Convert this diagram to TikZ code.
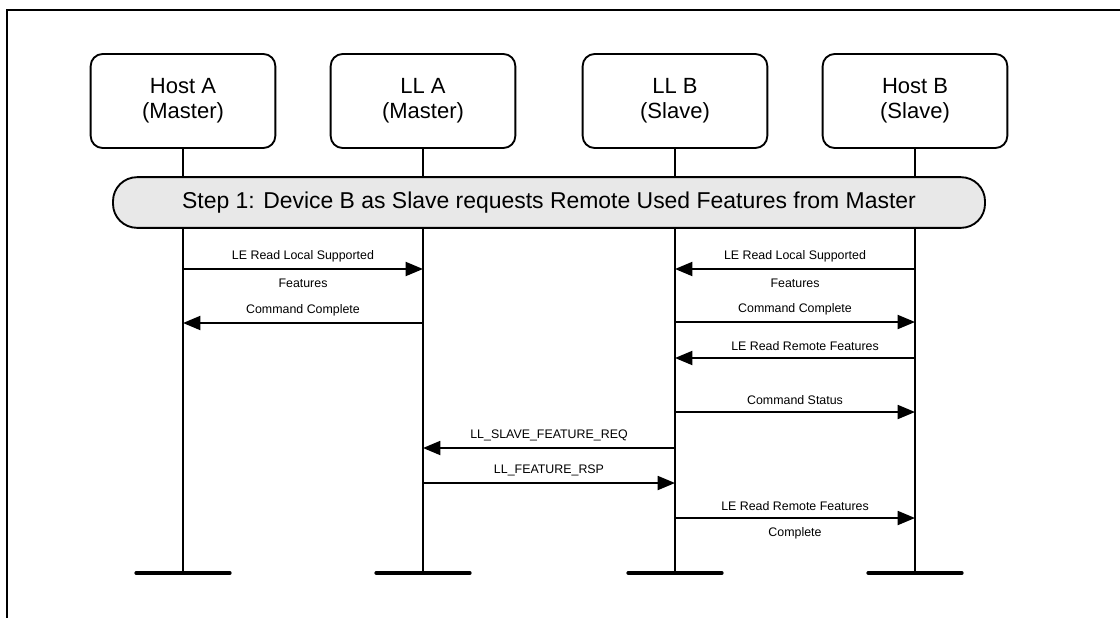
\documentclass[tikz,border=0pt]{standalone}
\usepackage{fontspec}
\setmainfont{Liberation Sans}
\usetikzlibrary{arrows.meta}

\begin{document}
\begin{tikzpicture}[x=0.75pt,y=-0.75pt]

  \tikzset{actor/.style = {draw,line width=1.4pt,rounded corners=9pt,minimum width=138.5pt,minimum height=70.5pt,align=center,font=\fontsize{16.5}{19}\selectfont}}
  \tikzset{lifeline/.style = {line width=1.4pt}}
  \tikzset{endbar/.style = {line width=3pt,line cap=round}}
  \tikzset{stepbar/.style = {draw,line width=1.4pt,fill=gray!18,rounded corners=18pt,minimum width=654pt,minimum height=38pt,font=\fontsize{17.2}{20}\selectfont}}
  \tikzset{msg/.style = {line width=1.4pt,-{Triangle[length=13pt,width=10.5pt]},font=\fontsize{9.3}{11}\selectfont}}
  \useasboundingbox (0,0) rectangle (1120,618);
  % frame
  \draw[line width=1.5pt] (1120,10) -- (7,10) -- (7,618);
  % participants
  \node[actor] (hosta) at (183,101) {Host A\\(Master)};
  \node[actor] (lla)   at (423,101) {LL A\\(Master)};
  \node[actor] (llb)   at (675,101) {LL B\\(Slave)};
  \node[actor] (hostb) at (915,101) {Host B\\(Slave)};
  \coordinate (hostaend) at (183,573);
  \coordinate (llaend)   at (423,573);
  \coordinate (llbend)   at (675,573);
  \coordinate (hostbend) at (915,573);
  % lifelines
  \draw[lifeline] (hosta) -- (hostaend);
  \draw[lifeline] (lla)   -- (llaend);
  \draw[lifeline] (llb)   -- (llbend);
  \draw[lifeline] (hostb) -- (hostbend);
  \draw[endbar] ([xshift=-35pt]hostaend) -- ([xshift=35pt]hostaend);
  \draw[endbar] ([xshift=-35pt]llaend)   -- ([xshift=35pt]llaend);
  \draw[endbar] ([xshift=-35pt]llbend)   -- ([xshift=35pt]llbend);
  \draw[endbar] ([xshift=-35pt]hostbend) -- ([xshift=35pt]hostbend);
  % step
  \node[stepbar] (step) at (549,202.5) {Step 1: Device B as Slave requests Remote Used Features from Master};
  % messages
  \draw[msg] (hosta |- 0,269) -- node[above=1.5pt] {LE Read Local Supported} node[below=3.3pt] {Features} (lla |- 0,269);
  \draw[msg] (lla |- 0,323)   -- node[above=1.5pt] {Command Complete} (hosta |- 0,323);
  \draw[msg] (hostb |- 0,269) -- node[above=1.5pt] {LE Read Local Supported} node[below=3.3pt] {Features} (llb |- 0,269);
  \draw[msg] (llb |- 0,322)   -- node[above=1.5pt] {Command Complete} (hostb |- 0,322);
  \draw[msg] (hostb |- 0,358) -- node[above=1.5pt,xshift=7.5pt] {LE Read Remote Features} (llb |- 0,358);
  \draw[msg] (llb |- 0,412)   -- node[above=1.5pt] {Command Status} (hostb |- 0,412);
  \draw[msg] (llb |- 0,448)   -- node[above=1.5pt] {LL\_SLAVE\_FEATURE\_REQ} (lla |- 0,448);
  \draw[msg] (lla |- 0,483)   -- node[above=1.5pt] {LL\_FEATURE\_RSP} (llb |- 0,483);
  \draw[msg] (llb |- 0,518)   -- node[above=1.5pt] {LE Read Remote Features} node[below=3.3pt] {Complete} (hostb |- 0,518);
\end{tikzpicture}
\end{document}
